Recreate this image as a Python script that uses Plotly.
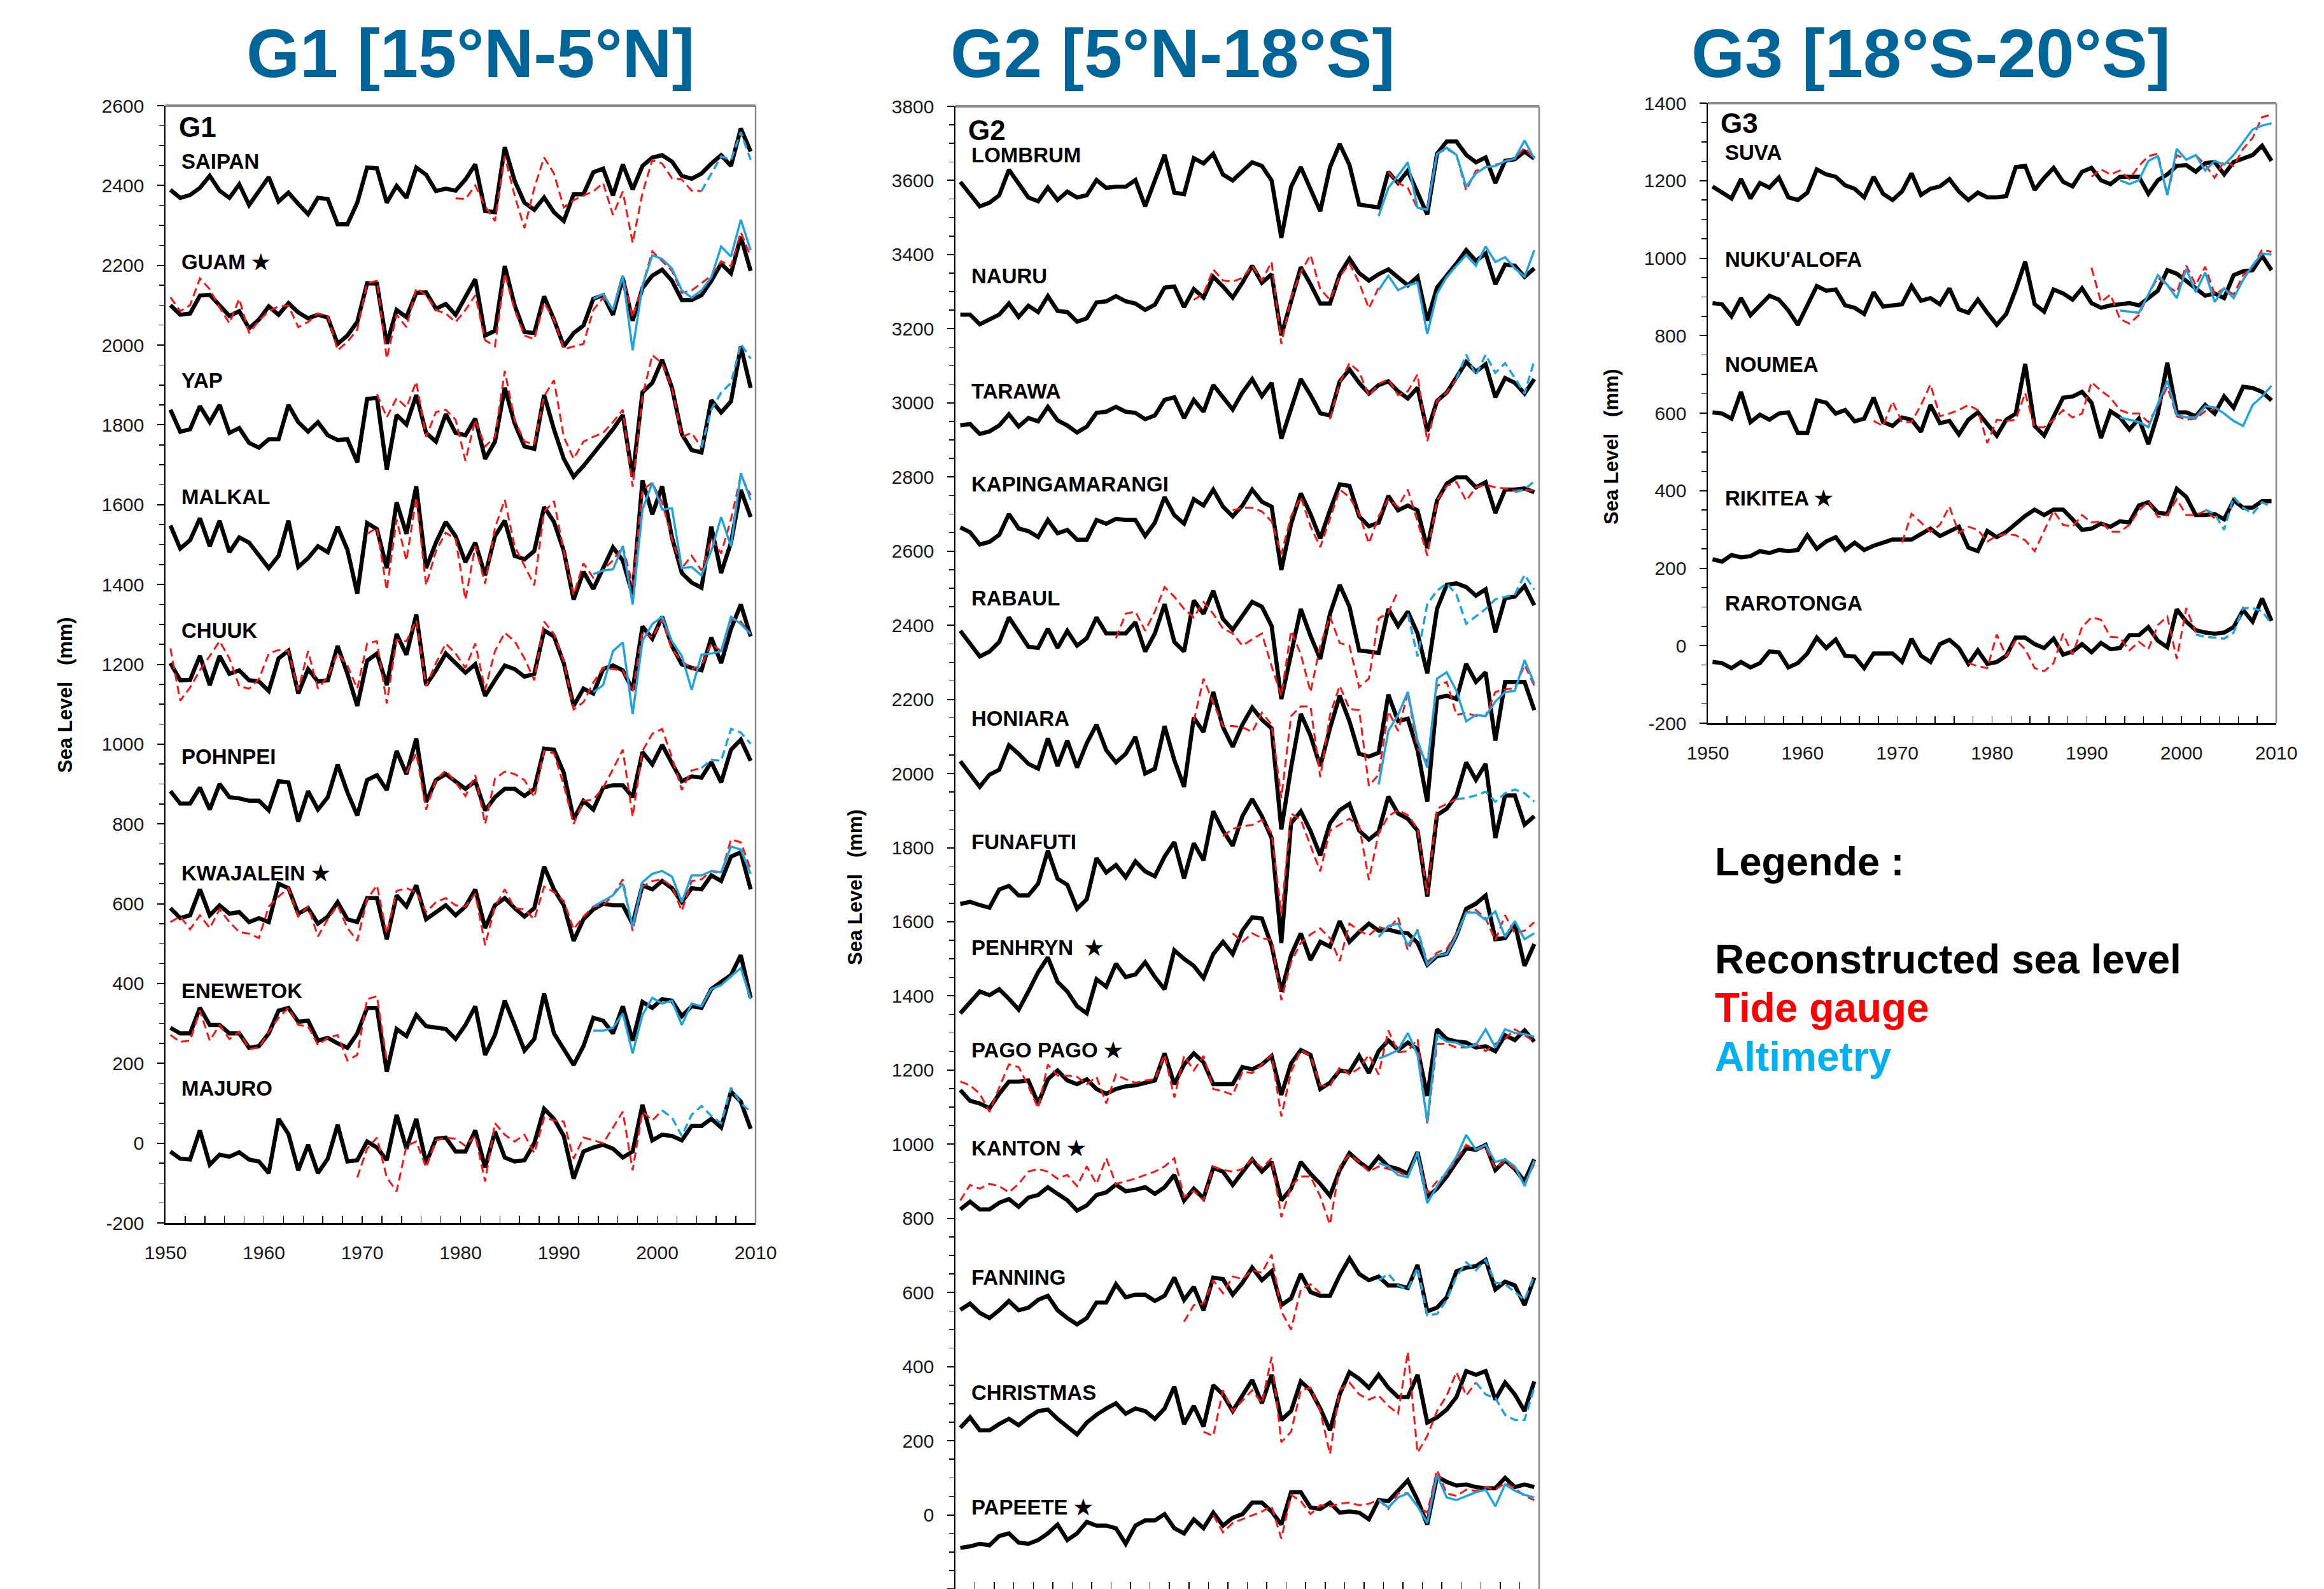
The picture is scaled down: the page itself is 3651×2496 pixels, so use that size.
import plotly.graph_objects as go

# ---------------- DATA (annual values, mm; index 0 = 1950) ----------------
SAIPAN_REC = [2389,2369,2376,2394,2424,2387,2369,2403,2351,2385,2421,2360,2382,2354,2328,2369,2366,2303,2303,2357,
              2445,2443,2357,2399,2369,2445,2427,2386,2392,2387,2415,2453,2336,2333,2496,2412,2357,2339,2370,2333,
              2311,2378,2378,2433,2442,2375,2453,2390,2449,2470,2476,2460,2424,2417,2430,2455,2476,2449,2543,2485]
SAIPAN_TG = [2368,2366,2400,2348,2311,2473,2375,2293,2394,2470,2430,2345,2363,2375,2385,2406,2326,2385,2256,2381,
             2464,2455,2418,2415,2387,2386]
SAIPAN_TG_START = 1979
SAIPAN_ALT = [2386,2430,2473,2464,2534,2464]
SAIPAN_ALT_START = 2004

GUAM_REC = [2100,2076,2079,2124,2126,2100,2073,2085,2042,2064,2097,2076,2105,2082,2067,2076,2069,2003,2024,2058,
            2155,2154,2003,2088,2070,2131,2132,2091,2103,2076,2119,2165,2024,2036,2198,2100,2033,2030,2122,2064,
            1997,2030,2049,2116,2125,2076,2168,2061,2143,2174,2189,2161,2113,2113,2125,2161,2204,2180,2271,2186]
GUAM_TG = [2120,2085,2100,2167,2140,2094,2055,2116,2030,2061,2085,2097,2099,2045,2058,2079,2073,1987,2008,2039,
           2155,2161,1966,2076,2045,2143,2125,2088,2079,2058,2088,2125,2012,1997,2180,2088,2024,2015,2106,2064,
           1990,1997,2003,2088,2119,2088,2174,2070,2149,2235,2210,2186,2131,2137,2155,2174,2210,2198,2283,2222]
GUAM_TG_START = 1950
GUAM_ALT = [2116,2128,2088,2174,1987,2149,2225,2216,2192,2137,2119,2137,2170,2247,2222,2314,2238]
GUAM_ALT_START = 1993

YAP_REC = [1838,1783,1789,1847,1807,1850,1780,1792,1755,1743,1764,1764,1850,1807,1783,1807,1774,1762,1764,1706,
           1865,1868,1688,1825,1801,1875,1780,1758,1827,1780,1774,1816,1715,1758,1893,1804,1746,1740,1875,1789,
           1715,1670,1697,1728,1758,1789,1825,1670,1882,1905,1963,1893,1777,1737,1731,1862,1831,1859,1997,1893]
YAP_TG = [1877,1819,1867,1844,1908,1770,1832,1838,1813,1710,1813,1746,1770,1935,1813,1758,1752,1872,1912,1770,
          1715,1758,1770,1780,1807,1838,1645,1872,1975,1954,1893,1770,1780,1743]
YAP_TG_START = 1971
YAP_ALT = [1743,1838,1881,1905,2003,1966]
YAP_ALT_START = 2004

MALKAL_REC = [1548,1490,1511,1566,1496,1560,1481,1518,1505,1472,1441,1472,1560,1444,1466,1496,1481,1545,1487,1377,
              1554,1539,1441,1606,1527,1646,1441,1505,1557,1521,1456,1505,1423,1521,1560,1472,1463,1484,1594,1557,
              1484,1362,1432,1389,1441,1493,1460,1374,1661,1576,1646,1518,1429,1405,1392,1545,1429,1505,1637,1569]
MALKAL_TG = [1527,1542,1386,1563,1460,1618,1398,1484,1530,1514,1362,1496,1402,1542,1612,1496,1447,1398,1582,1609,
             1484,1374,1453,1417,1438,1460,1496,1398,1637,1655,1606,1514,1441,1472,1435,1514,1478,1563,1673,1624]
MALKAL_TG_START = 1970
MALKAL_ALT = [1426,1435,1438,1496,1350,1588,1655,1588,1591,1441,1444,1423,1484,1569,1496,1679,1612]
MALKAL_ALT_START = 1993

CHUUK_REC = [1203,1160,1161,1221,1148,1221,1176,1185,1160,1157,1133,1215,1234,1127,1188,1157,1160,1246,1176,1096,
             1209,1227,1148,1276,1224,1325,1148,1185,1227,1203,1179,1200,1121,1160,1197,1188,1169,1176,1285,1270,
             1203,1096,1139,1127,1188,1197,1185,1136,1295,1264,1319,1246,1200,1191,1185,1267,1203,1289,1350,1270]
CHUUK_TG = [1240,1109,1142,1185,1221,1258,1215,1145,1139,1163,1227,1236,1233,1136,1233,1139,1169,1227,1197,1139,
            1252,1258,1102,1261,1258,1310,1145,1203,1252,1227,1191,1252,1136,1233,1279,1258,1215,1160,1307,1276,
            1209,1087,1105,1154,1191,1188,1185,1130,1282,1267,1313,1236,1209,1188,1197,1252,1233,1313,1307,1276]
CHUUK_TG_START = 1950
CHUUK_ALT = [1130,1148,1233,1255,1075,1258,1301,1319,1258,1221,1136,1224,1227,1233,1319,1301,1276]
CHUUK_ALT_START = 1993

POHNPEI_REC = [882,851,851,891,836,900,867,864,858,858,834,907,904,806,882,836,867,949,879,821,
               910,922,885,983,925,1014,855,910,925,907,888,907,834,867,888,888,870,888,989,986,
               928,812,858,836,891,897,897,867,980,949,998,952,907,919,916,955,904,986,1011,958]
POHNPEI_TG = [928,977,836,910,934,904,870,922,800,913,931,925,910,867,983,977,897,800,858,861,
              891,937,986,818,983,1026,1038,967,885,934,940]
POHNPEI_TG_START = 1974
POHNPEI_ALT = [940,961,958,1038,1029,1001]
POHNPEI_ALT_START = 2004

KWAJALEIN_REC = [589,564,571,636,571,596,575,579,554,564,554,650,639,575,589,550,568,604,561,554,
                 614,614,511,621,593,646,561,579,596,571,593,636,539,596,614,589,568,589,693,636,
                 596,507,561,586,600,596,596,550,646,636,657,639,604,639,636,671,657,718,729,636]
KWAJALEIN_TG = [554,568,536,571,539,586,554,529,525,514,593,618,639,568,593,518,561,596,539,507,
                611,646,525,632,639,629,579,604,614,596,593,625,496,593,636,589,586,561,643,629,
                607,536,568,593,596,621,661,532,643,657,661,643,582,657,661,682,675,761,754,686]
KWAJALEIN_TG_START = 1950
KWAJALEIN_ALT = [593,607,621,650,543,654,675,682,668,604,671,671,682,679,743,736,675]
KWAJALEIN_ALT_START = 1993

ENEWETOK_REC = [289,275,275,339,296,296,275,275,239,243,275,332,339,304,307,257,264,250,239,275,
                339,339,179,286,268,321,293,289,286,261,296,343,221,271,357,296,232,261,375,275,
                236,196,243,314,307,275,343,257,354,339,361,357,318,343,339,386,404,421,471,364]
ENEWETOK_TG = [271,254,257,332,257,296,261,279,236,239,279,314,339,296,293,246,264,271,207,221,361,368,207]
ENEWETOK_TG_START = 1950
ENEWETOK_ALT = [282,282,289,325,225,321,364,350,357,296,350,343,386,396,418,439,361]
ENEWETOK_ALT_START = 1993

MAJURO_REC = [-21,-39,-41,32,-54,-29,-34,-23,-41,-46,-75,61,23,-68,-4,-75,-39,46,-46,-43,
              4,-11,-43,71,-14,61,-50,11,14,-21,-21,32,-61,29,-36,-46,-43,0,86,61,
              18,-89,-21,-11,-4,-14,-36,-21,96,7,21,18,7,43,43,61,39,129,104,36]
MAJURO_TG = [-86,-14,14,-86,-121,-7,4,-61,7,14,11,-7,18,-96,50,21,4,21,-25,64,57,54,-39,14,7,0,39,79,-68,79,57,82]
MAJURO_TG_START = 1969
MAJURO_ALT = [82,64,18,71,93,68,50,139,100,79]
MAJURO_ALT_START = 2000

LOMBRUM_REC = [3596,3563,3530,3540,3560,3629,3590,3554,3544,3581,3547,3570,3554,3560,3601,3580,3583,3583,3601,3530,
               3600,3669,3567,3563,3660,3646,3672,3616,3600,3623,3649,3639,3600,3445,3583,3636,3573,3517,3636,3698,
               3642,3535,3531,3527,3623,3593,3626,3570,3508,3672,3705,3705,3669,3649,3662,3593,3653,3657,3678,3659]
LOMBRUM_TG = [3623,3593,3580,3524,3521,3672,3685,3669,3573,3626,3636,3642,3649,3659,3688,3659]
LOMBRUM_TG_START = 1994
LOMBRUM_ALT = [3504,3580,3613,3649,3527,3521,3672,3688,3669,3583,3619,3636,3639,3652,3659,3708,3659]
LOMBRUM_ALT_START = 1993

NAURU_REC = [3238,3238,3212,3225,3238,3268,3232,3262,3245,3288,3248,3245,3219,3228,3271,3274,3288,3274,3268,3251,
             3265,3311,3314,3258,3307,3284,3340,3314,3284,3324,3370,3324,3347,3182,3271,3366,3320,3268,3268,3347,
             3389,3350,3330,3347,3360,3340,3317,3340,3222,3311,3343,3376,3412,3383,3403,3320,3373,3370,3340,3363]
NAURU_TG = [3278,3294,3360,3330,3327,3337,3370,3330,3380,3159,3284,3353,3399,3307,3278,3340,3376,3324,3255,3311]
NAURU_TG_START = 1974
NAURU_ALT = [3304,3343,3304,3317,3324,3186,3294,3340,3370,3399,3370,3422,3380,3393,3363,3340,3412]
NAURU_ALT_START = 1993

TARAWA_REC = [2939,2943,2916,2923,2939,2969,2936,2959,2950,2989,2953,2939,2920,2936,2973,2976,2989,2976,2973,2956,
              2966,3008,3015,2959,3008,2976,3048,3015,2982,3028,3064,3018,3054,2903,2982,3064,3021,2972,2966,3058,
              3090,3054,3025,3048,3058,3031,3012,3041,2923,3005,3028,3067,3110,3084,3104,3015,3067,3054,3025,3064]
TARAWA_TG = [2956,3054,3107,3084,3018,3051,3064,3021,3031,3077,2896,3005,3028,3064]
TARAWA_TG_START = 1988
TARAWA_ALT = [3064,3130,3074,3130,3081,3107,3067,3025,3114]
TARAWA_ALT_START = 2001

KAPINGA_REC = [2664,2651,2618,2625,2644,2700,2661,2654,2638,2684,2648,2657,2631,2631,2684,2674,2687,2684,2684,2641,
               2677,2746,2697,2674,2740,2723,2766,2720,2694,2723,2766,2733,2720,2549,2674,2756,2700,2634,2710,2780,
               2776,2694,2667,2677,2749,2710,2723,2710,2608,2736,2782,2799,2799,2772,2786,2703,2766,2766,2769,2759]
KAPINGA_TG = [2710,2717,2717,2707,2680,2592,2694,2746,2667,2611,2687,2766,2746,2700,2621,2694,2740,2720,2766,2680,
              2588,2736,2776,2786,2736,2772,2779,2772,2769,2763,2766,2763]
KAPINGA_TG_START = 1978
KAPINGA_ALT = [2759,2766,2789]
KAPINGA_ALT_START = 2007

RABAUL_REC = [2385,2352,2316,2329,2355,2421,2381,2342,2339,2391,2339,2385,2345,2365,2421,2378,2378,2378,2408,2329,
              2378,2457,2355,2329,2467,2431,2493,2417,2388,2427,2463,2450,2398,2201,2325,2444,2371,2309,2431,2509,
              2450,2332,2329,2325,2444,2398,2437,2378,2270,2444,2509,2513,2503,2480,2497,2381,2473,2477,2506,2454]
RABAUL_TG = [2365,2431,2437,2385,2437,2503,2477,2444,2421,2463,2431,2391,2378,2345,2362,2378,2289,2210,2385,2322,
             2220,2345,2424,2352,2345,2233,2256,2418,2434,2493]
RABAUL_TG_START = 1966
RABAUL_ALT = [2431,2316,2457,2493,2513,2483,2404,2424,2444,2470,2477,2483,2536,2496]
RABAUL_ALT_START = 1996

HONIARA_REC = [2033,1997,1964,1997,2010,2076,2053,2026,2013,2095,2020,2089,2016,2082,2132,2063,2030,2053,2099,2000,
               2013,2128,2036,1964,2151,2112,2220,2125,2072,2132,2178,2145,2122,1849,2016,2161,2102,2020,2122,2210,
               2141,2053,2046,2056,2213,2141,2148,2063,1924,2204,2210,2201,2296,2247,2273,2089,2247,2247,2247,2171]
HONIARA_TG = [2141,2256,2191,2128,2128,2125,2112,2164,2132,1934,2155,2181,2181,1990,2158,2237,2174,2171,1967,1997,
              2168,2115,2217,2069,2030,2237,2247,2158,2164,2155,2155,2220,2227,2230,2293,2237]
HONIARA_TG_START = 1974
HONIARA_ALT = [1970,2115,2158,2220,2089,2016,2256,2273,2223,2141,2158,2155,2194,2220,2223,2306,2243]
HONIARA_ALT_START = 1993

FUNAFUTI_REC = [1648,1654,1645,1638,1687,1697,1671,1671,1703,1792,1716,1700,1635,1661,1772,1733,1753,1720,1763,1736,
                1723,1776,1815,1717,1812,1766,1898,1846,1805,1885,1931,1885,1826,1543,1866,1898,1845,1779,1866,1901,
                1918,1846,1822,1843,1938,1892,1878,1846,1668,1888,1905,1941,2030,1983,2026,1826,1941,1941,1862,1885]
FUNAFUTI_TG = [1831,1851,1858,1861,1875,1839,1622,1892,1875,1805,1736,1846,1862,1878,1859,1713,1839,1885,1901,1888,
               1852,1674,1905,1918,1931]
FUNAFUTI_TG_START = 1977
FUNAFUTI_ALT = [1931,1934,1941,1951,1924,1947,1957,1947,1924]
FUNAFUTI_ALT_START = 2001

PENHRYN_REC = [1353,1382,1412,1402,1418,1392,1363,1412,1464,1504,1438,1412,1372,1353,1445,1425,1487,1451,1458,1491,
               1451,1418,1523,1500,1481,1448,1513,1546,1513,1576,1612,1609,1536,1412,1510,1569,1497,1546,1533,1602,
               1546,1572,1595,1576,1579,1572,1569,1543,1484,1507,1513,1563,1635,1649,1671,1553,1556,1595,1481,1540]
PENHRYN_TG = [1569,1546,1569,1556,1550,1389,1491,1543,1566,1582,1556,1494,1595,1576,1563,1586,1579,1612,1523,1579,
              1491,1517,1527,1569,1625,1632,1609,1550,1618,1569,1576,1599]
PENHRYN_TG_START = 1978
PENHRYN_ALT = [1559,1589,1595,1536,1576,1484,1510,1513,1563,1625,1625,1605,1628,1559,1602,1553,1569]
PENHRYN_ALT_START = 1993

PAGO_REC = [1146,1117,1110,1097,1136,1169,1169,1172,1110,1175,1199,1172,1162,1175,1149,1136,1149,1156,1159,1166,
            1172,1245,1162,1215,1245,1221,1162,1162,1162,1208,1202,1215,1238,1133,1218,1254,1241,1149,1166,1199,
            1195,1238,1192,1251,1280,1254,1274,1257,1130,1310,1284,1277,1274,1261,1264,1251,1294,1281,1307,1277]
PAGO_TG = [1169,1159,1136,1087,1153,1215,1208,1156,1097,1215,1185,1185,1182,1162,1182,1110,1188,1175,1166,1172,
           1175,1241,1126,1238,1199,1238,1149,1143,1133,1195,1192,1215,1241,1075,1195,1254,1238,1159,1156,1208,
           1188,1205,1241,1188,1307,1248,1251,1284,1054,1271,1271,1261,1261,1271,1251,1271,1284,1310,1294,1277]
PAGO_TG_START = 1950
PAGO_ALT = [1231,1241,1254,1300,1241,1061,1294,1277,1274,1261,1268,1310,1261,1310,1300,1297,1290]
PAGO_ALT_START = 1993

KANTON_REC = [824,845,824,824,842,852,831,856,863,884,866,849,821,835,863,870,891,873,877,884,
              866,884,917,848,880,854,936,926,890,923,959,926,952,848,880,952,920,893,861,930,
              976,952,933,966,940,933,920,979,858,880,913,952,989,985,998,930,956,933,900,959]
KANTON_TG = [848,890,880,893,887,870,893,926,933,926,907,917,887,940,893,962,893,900,907,917,
             926,940,962,858,874,848,940,930,926,933,959,936,962,803,887,913,913,859,783,940,
             972,952,926,940,933,926,913,979,868,900,920,959,998,985,990,935,956,933,895,946]
KANTON_TG_START = 1950
KANTON_ALT = [949,940,917,911,979,841,887,926,966,1025,985,998,952,959,940,887,956]
KANTON_ALT_START = 1993

FANNING_REC = [553,570,545,531,552,577,552,559,580,591,552,531,514,531,573,573,622,587,594,594,
               577,591,640,580,615,552,640,636,594,626,667,633,657,566,584,650,601,591,591,646,
               692,650,633,643,619,619,612,674,549,559,587,657,667,671,688,608,629,619,566,640]
FANNING_TG = [521,566,570,633,598,643,636,660,653,702,549,500,608,622,598]
FANNING_TG_START = 1973
FANNING_ALT = [633,650,619,608,667,538,542,580,643,681,660,688,626,622,601,580,646]
FANNING_ALT_START = 1993

CHRISTMAS_REC = [235,263,228,228,245,259,242,263,280,284,259,238,217,249,270,287,301,273,287,280,
                 259,287,346,245,294,238,350,325,280,322,364,301,378,256,280,360,336,287,228,325,
                 385,367,343,378,343,318,318,378,249,263,284,318,388,378,388,311,357,325,280,360]
CHRISTMAS_TG = [224,213,336,280,308,336,301,426,196,224,336,343,280,164,336,357,325,311,322,294,
                273,440,168,213,280,322,385,322,357]
CHRISTMAS_TG_START = 1975
CHRISTMAS_ALT = [357,325,315,270,256,256,343]
CHRISTMAS_ALT_START = 2003

PAPEETE_REC = [-89,-85,-78,-82,-57,-50,-75,-78,-68,-50,-26,-68,-50,-19,-29,-29,-36,-78,-29,-15,
               -15,2,-36,-50,-12,-36,6,-29,-8,2,33,33,9,-26,61,61,20,16,33,6,
               9,6,-12,40,37,65,93,40,-26,103,89,79,82,75,72,72,100,75,82,75]
PAPEETE_TG = [-1,-47,-22,-12,-1,9,23,-64,54,37,2,26,23,30,33,26,30,40,16,58,
              58,23,6,121,58,51,68,65,75,68,86,72,51,40]
PAPEETE_TG_START = 1976
PAPEETE_ALT = [40,20,47,58,23,-22,107,47,40,51,61,68,23,82,65,54,47]
PAPEETE_ALT_START = 1993

SUVA_REC = [1185,1169,1154,1204,1154,1194,1182,1208,1157,1150,1169,1229,1216,1210,1188,1179,1157,1210,1166,1150,
            1172,1219,1163,1179,1185,1204,1172,1150,1169,1157,1157,1160,1235,1238,1176,1207,1233,1197,1185,1223,
            1233,1201,1191,1210,1210,1210,1166,1201,1216,1238,1240,1223,1245,1248,1216,1248,1257,1266,1290,1251]
SUVA_TG = [1210,1229,1216,1226,1204,1238,1263,1270,1163,1266,1254,1266,1241,1207,1251,1238,1282,1310,1364,1370]
SUVA_TG_START = 1990
SUVA_ALT = [1201,1191,1201,1251,1263,1163,1282,1254,1266,1226,1251,1241,1266,1298,1332,1342,1348]
SUVA_ALT_START = 1993

NUKU_REC = [884,881,850,897,853,878,903,893,865,828,881,928,916,919,878,872,856,912,875,878,
            881,928,890,897,881,922,868,859,893,859,828,856,919,991,881,862,919,909,893,922,
            884,872,878,881,884,878,897,916,969,960,941,922,903,909,897,956,966,969,1006,969]
NUKU_TG = [975,887,906,843,831,853,906,950,928,912,981,931,978,906,922,906,956,978,1022,1016]
NUKU_TG_START = 1990
NUKU_ALT = [865,862,859,906,956,931,897,972,912,963,887,922,897,944,981,1012,1009]
NUKU_ALT_START = 1993

NOUMEA_REC = [602,599,586,655,577,596,583,599,602,549,549,633,627,599,608,579,586,640,577,567,
              589,583,552,621,574,580,545,583,602,574,542,583,599,727,567,542,592,640,643,655,
              627,536,605,589,558,586,520,599,730,602,602,592,621,599,643,614,668,665,655,633]
NOUMEA_TG = [580,567,630,577,577,621,674,592,599,608,621,608,523,583,580,583,652,564,564,583,
             608,589,599,680,658,640,608,599,599,577,618,668,592,583,586,605,611]
NOUMEA_TG_START = 1967
NOUMEA_ALT = [589,583,577,564,624,684,596,589,589,618,615,599,580,567,621,643,671]
NOUMEA_ALT_START = 1993

RIKITEA_REC = [223,217,234,228,231,244,239,247,244,247,285,250,269,280,247,266,247,258,266,274,
               274,274,288,302,283,294,307,253,244,296,280,294,315,335,351,337,351,351,326,299,
               302,315,307,321,318,362,370,343,340,405,384,337,337,340,326,375,356,356,373,373]
RIKITEA_TG = [266,340,318,294,312,359,291,307,299,269,283,288,285,272,244,296,348,312,307,337,
              318,321,294,294,312,348,373,332,337,378,337,337,348,329]
RIKITEA_TG_START = 1970
RIKITEA_ALT = [351,340,299,384,356,340,370,359]
RIKITEA_ALT_START = 2002

RAROTONGA_REC = [-42,-45,-58,-42,-56,-45,-15,-17,-56,-45,-20,21,-6,16,-26,-28,-58,-20,-20,-20,
                 -42,18,-26,-42,4,15,-6,-47,-12,-47,-42,-26,21,21,4,-6,18,-23,-15,4,
                 -17,7,-9,-6,27,27,48,13,-4,94,62,40,34,31,34,48,92,62,122,64]
RAROTONGA_TG = [-45,-53,-58,29,-28,15,-9,-58,-66,-45,31,-23,48,73,67,23,21,-12,10,-9,53,75,-34,97,34]
RAROTONGA_TG_START = 1977
RAROTONGA_ALT = [29,23,21,18,34,97,97,89,56]
RAROTONGA_ALT_START = 2001

REC_START = 1950

# station: (label, panel, rec, tg, tg_start, alt, alt_start, altimetry dashed?)
STATIONS = [
    ("SAIPAN", 1, SAIPAN_REC, SAIPAN_TG, SAIPAN_TG_START, SAIPAN_ALT, SAIPAN_ALT_START, True),
    ("GUAM ★", 1, GUAM_REC, GUAM_TG, GUAM_TG_START, GUAM_ALT, GUAM_ALT_START, False),
    ("YAP", 1, YAP_REC, YAP_TG, YAP_TG_START, YAP_ALT, YAP_ALT_START, True),
    ("MALKAL", 1, MALKAL_REC, MALKAL_TG, MALKAL_TG_START, MALKAL_ALT, MALKAL_ALT_START, False),
    ("CHUUK", 1, CHUUK_REC, CHUUK_TG, CHUUK_TG_START, CHUUK_ALT, CHUUK_ALT_START, False),
    ("POHNPEI", 1, POHNPEI_REC, POHNPEI_TG, POHNPEI_TG_START, POHNPEI_ALT, POHNPEI_ALT_START, True),
    ("KWAJALEIN ★", 1, KWAJALEIN_REC, KWAJALEIN_TG, KWAJALEIN_TG_START, KWAJALEIN_ALT, KWAJALEIN_ALT_START, False),
    ("ENEWETOK", 1, ENEWETOK_REC, ENEWETOK_TG, ENEWETOK_TG_START, ENEWETOK_ALT, ENEWETOK_ALT_START, False),
    ("MAJURO", 1, MAJURO_REC, MAJURO_TG, MAJURO_TG_START, MAJURO_ALT, MAJURO_ALT_START, True),
    ("LOMBRUM", 2, LOMBRUM_REC, LOMBRUM_TG, LOMBRUM_TG_START, LOMBRUM_ALT, LOMBRUM_ALT_START, False),
    ("NAURU", 2, NAURU_REC, NAURU_TG, NAURU_TG_START, NAURU_ALT, NAURU_ALT_START, False),
    ("TARAWA", 2, TARAWA_REC, TARAWA_TG, TARAWA_TG_START, TARAWA_ALT, TARAWA_ALT_START, True),
    ("KAPINGAMARANGI", 2, KAPINGA_REC, KAPINGA_TG, KAPINGA_TG_START, KAPINGA_ALT, KAPINGA_ALT_START, True),
    ("RABAUL", 2, RABAUL_REC, RABAUL_TG, RABAUL_TG_START, RABAUL_ALT, RABAUL_ALT_START, True),
    ("HONIARA", 2, HONIARA_REC, HONIARA_TG, HONIARA_TG_START, HONIARA_ALT, HONIARA_ALT_START, False),
    ("FUNAFUTI", 2, FUNAFUTI_REC, FUNAFUTI_TG, FUNAFUTI_TG_START, FUNAFUTI_ALT, FUNAFUTI_ALT_START, True),
    ("PENHRYN  ★", 2, PENHRYN_REC, PENHRYN_TG, PENHRYN_TG_START, PENHRYN_ALT, PENHRYN_ALT_START, False),
    ("PAGO PAGO ★", 2, PAGO_REC, PAGO_TG, PAGO_TG_START, PAGO_ALT, PAGO_ALT_START, False),
    ("KANTON ★", 2, KANTON_REC, KANTON_TG, KANTON_TG_START, KANTON_ALT, KANTON_ALT_START, False),
    ("FANNING", 2, FANNING_REC, FANNING_TG, FANNING_TG_START, FANNING_ALT, FANNING_ALT_START, True),
    ("CHRISTMAS", 2, CHRISTMAS_REC, CHRISTMAS_TG, CHRISTMAS_TG_START, CHRISTMAS_ALT, CHRISTMAS_ALT_START, True),
    ("PAPEETE ★", 2, PAPEETE_REC, PAPEETE_TG, PAPEETE_TG_START, PAPEETE_ALT, PAPEETE_ALT_START, False),
    ("SUVA", 3, SUVA_REC, SUVA_TG, SUVA_TG_START, SUVA_ALT, SUVA_ALT_START, False),
    ("NUKU'ALOFA", 3, NUKU_REC, NUKU_TG, NUKU_TG_START, NUKU_ALT, NUKU_ALT_START, False),
    ("NOUMEA", 3, NOUMEA_REC, NOUMEA_TG, NOUMEA_TG_START, NOUMEA_ALT, NOUMEA_ALT_START, False),
    ("RIKITEA ★", 3, RIKITEA_REC, RIKITEA_TG, RIKITEA_TG_START, RIKITEA_ALT, RIKITEA_ALT_START, True),
    ("RAROTONGA", 3, RAROTONGA_REC, RAROTONGA_TG, RAROTONGA_TG_START, RAROTONGA_ALT, RAROTONGA_ALT_START, True),
]

PANEL_TITLES = ["G1 [15°N-5°N]", "G2 [5°N-18°S]", "G3 [18°S-20°S]"]
PANEL_TAGS = ["G1", "G2", "G3"]
Y_RANGES = [[-200, 2600], [-200, 3800], [-200, 1400]]
X_RANGE = [1950, 2010]
LEGEND_TEXT = ["Reconstructed sea level", "Tide gauge", "Altimetry"]

# ---------------- LAYOUT / STYLE ----------------
W, H = 3651, 2496
FONT = "Liberation Sans, Arial, sans-serif"
BLACK = "#000000"
RED = "#FA1414"
BLUE = "#1CA4E0"
TITLE_BLUE = "#006699"

def px_x(p):
    return p / W

def px_y(p):
    return 1 - p / H

X_DOMAINS = [[px_x(260), px_x(1187)], [px_x(1501), px_x(2418)], [px_x(2683), px_x(3576)]]
Y_DOMAINS = [[px_y(1921), px_y(166)], [0.0, px_y(167)], [px_y(1136), px_y(162)]]
TITLE_X = [739, 1842, 3033]
YTITLE_POS = [(102, 1092), (1343, 1394), (2531, 702)]
LABEL_Y = {
    "SAIPAN": 2461, "GUAM ★": 2208, "YAP": 1912, "MALKAL": 1619, "CHUUK": 1285, "POHNPEI": 968,
    "KWAJALEIN ★": 676, "ENEWETOK": 381, "MAJURO": 137,
    "LOMBRUM": 3668, "NAURU": 3343, "TARAWA": 3031, "KAPINGAMARANGI": 2780, "RABAUL": 2473,
    "HONIARA": 2149, "FUNAFUTI": 1815, "PENHRYN  ★": 1530, "PAGO PAGO ★": 1254, "KANTON ★": 990,
    "FANNING": 640, "CHRISTMAS": 329, "PAPEETE ★": 21,
    "SUVA": 1273, "NUKU'ALOFA": 997, "NOUMEA": 726, "RIKITEA ★": 381, "RAROTONGA": 110,
}
TAG_Y = [2546, 3735, 1349]

fig = go.Figure()

def axis_ids(panel):
    s = "" if panel == 1 else str(panel)
    return "x" + s, "y" + s

for name, panel, rec, tg, tg_start, alt, alt_start, alt_dash in STATIONS:
    xa, ya = axis_ids(panel)
    fig.add_trace(go.Scatter(
        x=[REC_START + 0.5 + k for k in range(len(rec))], y=rec, mode="lines",
        line=dict(color=BLACK, width=6.5), xaxis=xa, yaxis=ya, showlegend=False, hoverinfo="skip"))
    fig.add_trace(go.Scatter(
        x=[tg_start + 0.5 + k for k in range(len(tg))], y=tg, mode="lines",
        line=dict(color=RED, width=3, dash="13px,7px"), xaxis=xa, yaxis=ya, showlegend=False, hoverinfo="skip"))
    fig.add_trace(go.Scatter(
        x=[alt_start + 0.5 + k for k in range(len(alt))], y=alt, mode="lines",
        line=dict(color=BLUE, width=3.5, dash="13px,7px" if alt_dash else "solid"),
        xaxis=xa, yaxis=ya, showlegend=False, hoverinfo="skip"))

annotations = []
shapes = []
layout = dict(
    width=W, height=H, margin=dict(l=0, r=0, t=0, b=0, pad=0, autoexpand=False),
    paper_bgcolor="white", plot_bgcolor="white", showlegend=False,
    font=dict(family=FONT, color="#111"),
)

for p in range(3):
    s = "" if p == 0 else str(p + 1)
    xa, ya = "x" + s, "y" + s
    yticks = list(range(Y_RANGES[p][0], Y_RANGES[p][1] + 1, 200))
    layout["xaxis" + s] = dict(
        domain=X_DOMAINS[p], range=X_RANGE, anchor=ya, showgrid=False, zeroline=False, automargin=False,
        showline=True, linecolor=BLACK, linewidth=3, ticks="inside", ticklen=11, tickwidth=1.5,
        tickcolor=BLACK, dtick=10, tick0=1950, showticklabels=(p != 1),
        minor=dict(dtick=2, ticks="inside", ticklen=11, tickwidth=1.5, tickcolor=BLACK, showgrid=False),
        tickfont=dict(size=30, color="#1a1a1a", family=FONT), ticklabelstandoff=18,
    )
    layout["yaxis" + s] = dict(
        domain=Y_DOMAINS[p], range=Y_RANGES[p], anchor=xa, showgrid=False, zeroline=False, automargin=False,
        showline=True, linecolor=BLACK, linewidth=2.5, ticks="outside", ticklen=11, tickwidth=2,
        tickcolor=BLACK, tickmode="array", tickvals=yticks, ticktext=[str(v) for v in yticks],
        minor=dict(tickmode="linear", dtick=50, tick0=0, ticks="outside", ticklen=8, tickwidth=1.5,
                   tickcolor=BLACK, showgrid=False),
        tickfont=dict(size=30, color="#1a1a1a", family=FONT), ticklabelstandoff=14,
    )
    # grey top and right frame
    shapes.append(dict(type="line", xref=xa + " domain", yref=ya + " domain", x0=0, x1=1, y0=1, y1=1,
                       line=dict(color="#8a8a8a", width=4)))
    shapes.append(dict(type="line", xref=xa + " domain", yref=ya + " domain", x0=1, x1=1, y0=0, y1=1,
                       line=dict(color="#8a8a8a", width=2.5)))
    # big panel title
    annotations.append(dict(text="<b>%s</b>" % PANEL_TITLES[p], xref="paper", yref="paper",
                            x=px_x(TITLE_X[p]), y=px_y(84), xanchor="center", yanchor="middle",
                            showarrow=False, font=dict(size=108, color=TITLE_BLUE, family=FONT)))
    # panel tag inside plot
    annotations.append(dict(text="<b>%s</b>" % PANEL_TAGS[p], xref=xa, yref=ya,
                            x=1951.2, y=TAG_Y[p], xanchor="left", yanchor="middle",
                            showarrow=False, font=dict(size=44, color=BLACK, family=FONT)))
    # y-axis title
    tx, ty = YTITLE_POS[p]
    annotations.append(dict(text="<b>Sea Level\u00a0\u00a0\u00a0(mm)</b>", xref="paper", yref="paper",
                            x=px_x(tx), y=px_y(ty), xanchor="center", yanchor="middle", textangle=-90,
                            showarrow=False, font=dict(size=31, color=BLACK, family=FONT)))

for name, panel, *_ in STATIONS:
    xa, ya = axis_ids(panel)
    annotations.append(dict(text="<b>%s</b>" % name, xref=xa, yref=ya,
                            x=1951.5 if panel < 3 else 1951.7, y=LABEL_Y[name],
                            xanchor="left", yanchor="middle", showarrow=False,
                            font=dict(size=33, color=BLACK, family=FONT)))

# legend block
annotations.append(dict(text="<b>Legende :</b>", xref="paper", yref="paper", x=px_x(2692), y=px_y(1353),
                        xanchor="left", yanchor="middle", showarrow=False,
                        font=dict(size=63, color=BLACK, family=FONT)))
for txt, col, py in zip(LEGEND_TEXT, [BLACK, "#FF0000", "#00B0F0"], [1507, 1583, 1660]):
    annotations.append(dict(text="<b>%s</b>" % txt, xref="paper", yref="paper", x=px_x(2692), y=px_y(py),
                            xanchor="left", yanchor="middle", showarrow=False,
                            font=dict(size=64, color=col, family=FONT)))

layout["annotations"] = annotations
layout["shapes"] = shapes
fig.update_layout(**layout)
fig.write_html("out.html", config={"displayModeBar": False, "staticPlot": True},
               post_script="document.body.style.margin='0px';document.body.style.overflow='hidden';")
